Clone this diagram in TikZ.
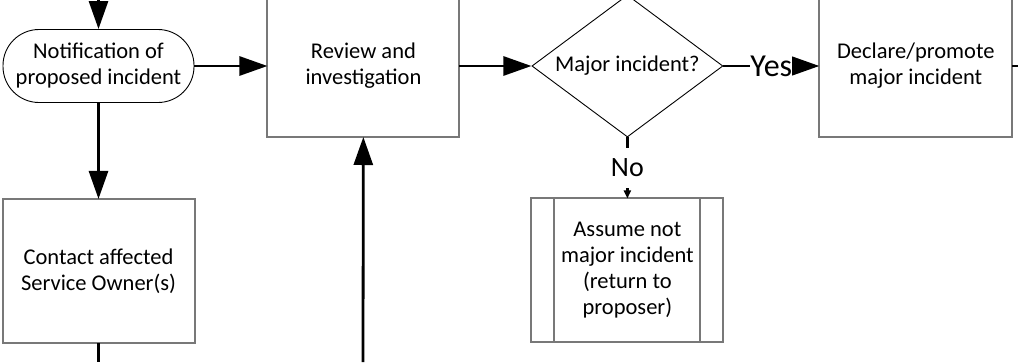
\documentclass[tikz,border=0pt]{standalone}
\usepackage{fontspec}
\setmainfont{Carlito}
\usetikzlibrary{shapes.geometric,arrows.meta,positioning}
\definecolor{boxgray}{RGB}{120,120,120}

\begin{document}
\begin{tikzpicture}[x=1pt, y=-1pt,
  >={Triangle[length=28pt,width=19pt]},
  flow/.style={line width=2.8pt},
  txt/.style={align=center, font=\fontsize{22.5}{26}\selectfont},
  box/.style={txt, draw=boxgray, line width=2pt, outer sep=0pt, inner sep=0pt, minimum width=192pt, minimum height=142pt},
  term/.style={txt, draw, line width=0.9pt, rounded corners=36pt, minimum width=191pt, minimum height=73pt},
  decision/.style={txt, draw, diamond, aspect=1.35, line width=0.9pt, inner sep=0pt, minimum width=191pt, minimum height=142pt},
  lbl/.style={fill=white, inner xsep=0pt, inner ysep=11pt, font=\fontsize{32}{32}\selectfont}]
\useasboundingbox (0,0) rectangle (1018,362);
\node[term] (note) at (98.5,66) {Notification of\\proposed incident};
\node[box, right=73pt of note] (review) {Review and\\investigation};
\node[decision, right=72pt of review] (major) {Major incident?};
\node[box, minimum width=193pt, right=96pt of major] (declare) {Declare/promote\\major incident};
\node[box, minimum height=144pt, below=96pt of note] (contact) {Contact affected\\Service Owner(s)};
\node[box, minimum height=144pt, below=61pt of major] (assume) {Assume not\\major incident\\(return to\\proposer)};
\draw[draw=boxgray, line width=2pt]
  ([xshift=23pt]assume.north west) -- ([xshift=23pt]assume.south west)
  ([xshift=-23pt]assume.north east) -- ([xshift=-23pt]assume.south east);
% loose ends at the picture edges
\coordinate (intop) at (98.5,0);
\coordinate (outend) at (1018,66);
\coordinate (contactout) at (98.5,362);
\coordinate (reviewin) at (363,362);
\draw[flow,->] (intop) -- (note);
\draw[flow,->] (note) -- (review);
\draw[flow,->] (review) -- (major);
\draw[flow,->] (major) -- node[lbl]{Yes} (declare);
\draw[flow,-{Triangle[length=8pt,width=7pt]}] (major) -- node[lbl, font=\fontsize{28}{28}\selectfont]{No} (assume);
\draw[flow] (declare) -- (outend);
\draw[flow,->] (note) -- (contact);
\draw[flow] (contact) -- (contactout);
\draw[flow,->] (reviewin) -- (review);
\end{tikzpicture}
\end{document}
